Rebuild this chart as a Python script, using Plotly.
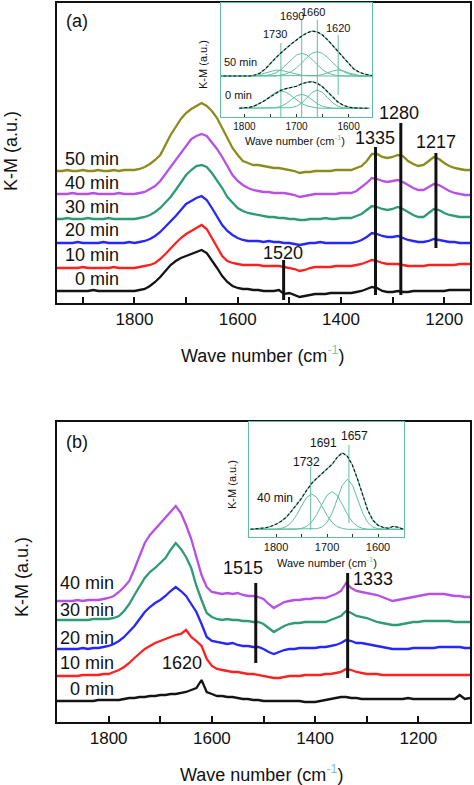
import plotly.graph_objects as go

W, H = 474, 785
FONT = "Liberation Sans, Arial, Helvetica, sans-serif"
TEAL = "#5fbf9f"

# ---------------- Panel (a) data ----------------
WN_A = [1950, 1940, 1930, 1920, 1910, 1900, 1890, 1880, 1870, 1860, 1850, 1840, 1830, 1820, 1810, 1800,
        1790, 1780, 1770, 1760, 1750, 1740, 1730, 1720, 1710, 1700,
        1690, 1680, 1670, 1660, 1650, 1640, 1630, 1620, 1610, 1600,
        1590, 1580, 1570, 1560, 1550, 1540, 1530, 1520, 1510, 1500,
        1490, 1480, 1470, 1460, 1450, 1440, 1430, 1420, 1410, 1400,
        1390, 1380, 1370, 1360, 1350, 1340, 1330, 1320, 1310, 1300,
        1290, 1280, 1270, 1260, 1250, 1240, 1230, 1220, 1210, 1200,
        1190, 1180, 1170, 1160, 1150]

A_LABELS = ["0 min", "10 min", "20 min", "30 min", "40 min", "50 min"]
A_OFFSETS = [12, 35, 60, 84, 109, 132]
A_0 = [0, 0, 0, 0, 0, 0, 0, 1, 0, 0, 0, 0, 0, 0, 0, 0,
       1, 2, 5, 9, 14, 20, 26, 30, 33, 35,
       37, 39, 41, 38, 31, 23, 15, 9, 5, 3,
       2, 2, 1, 1, 0, 0, 0, 1, -3, -2,
       -4, -6, -5, -4, -3, -3, -3, -2, -2, -2,
       -2, -2, -1, 0, 2, 4, 3, 0, -1, -1,
       0, -1, -1, 0, 0, 0, 0, 0, 0, 0,
       1, 1, 1, 1, 1]
A_10 = [0, 0, 0, 0, 0, 1, 0, 0, 0, 0, 0, 1, 0, 0, 0, 0,
        1, 2, 3, 5, 9, 14, 20, 25, 30, 34,
        37, 40, 43, 39, 30, 21, 12, 7, 5, 4,
        3, 3, 3, 3, 2, 2, 2, 2, 1, 0,
        -1, -3, -2, 0, 1, 1, 1, 1, 2, 2,
        2, 2, 3, 4, 6, 8, 7, 5, 4, 4,
        4, 3, 2, 2, 2, 2, 3, 3, 3, 3,
        3, 3, 4, 4, 4]
A_20 = [0, 0, 0, 0, 1, 0, 0, 0, 0, 1, 0, 0, 0, 0, 1, 0,
        1, 2, 4, 7, 11, 16, 21, 27, 33, 39,
        42, 45, 47, 43, 35, 27, 18, 12, 8, 5,
        3, 2, 2, 2, 1, 2, 1, 1, 0, 0,
        -1, -2, -1, 0, 0, 1, 0, 0, 0, 0,
        0, 0, 1, 3, 6, 10, 9, 7, 6, 6,
        7, 5, 3, 2, 1, 1, 2, 4, 3, 2,
        1, 1, 0, 0, 0]
A_30 = [0, 0, 1, 0, 0, 0, 1, 0, 0, 0, 1, 0, 0, 0, 0, 0,
        1, 2, 4, 7, 11, 16, 22, 29, 37, 44,
        49, 53, 54, 52, 46, 39, 31, 22, 16, 11,
        8, 6, 5, 4, 3, 2, 2, 1, 1, 0,
        0, -1, -1, 0, 0, 0, 1, 0, 0, 1,
        1, 1, 3, 5, 9, 13, 12, 10, 9, 10,
        12, 10, 7, 4, 2, 2, 6, 10, 9, 6,
        4, 3, 2, 2, 2]
A_40 = [0, 0, 0, 1, 0, 0, 0, 1, 0, 0, 0, 0, 1, 0, 0, 0,
        1, 2, 5, 8, 13, 20, 28, 35, 42, 48,
        55, 58, 60, 58, 52, 45, 37, 28, 19, 13,
        9, 6, 4, 3, 2, 2, 1, 1, 1, 0,
        -1, -3, -2, -1, 0, 0, 0, 0, 0, 1,
        1, 1, 3, 7, 11, 16, 15, 13, 12, 13,
        14, 12, 9, 6, 4, 4, 7, 10, 9, 6,
        3, 1, 0, -1, -1]
A_50 = [0, 0, 1, 0, 0, 1, 0, 0, 1, 0, 0, 1, 0, 1, 1, 1,
        2, 4, 7, 11, 16, 26, 36, 44, 52, 58,
        62, 65, 68, 65, 60, 53, 43, 33, 23, 16,
        10, 8, 6, 6, 5, 4, 3, 3, 2, 1,
        0, -2, -1, -1, 0, 0, 0, 0, 1, 1,
        1, 1, 3, 5, 10, 17, 17, 14, 13, 14,
        16, 15, 10, 7, 5, 6, 10, 14, 12, 8,
        5, 3, 2, 1, 1]
A_SERIES = [A_0, A_10, A_20, A_30, A_40, A_50]
A_COLORS = ["#141414", "#ff2020", "#2626ff", "#2e9a76", "#b650e6", "#8c8c1e"]

MARK_A_WN = [1511, 1333, 1284, 1216]
MARK_A_Y0 = [3, 8, 8, 55]
MARK_A_Y1 = [43, 156, 180, 150]
MARK_A_TXT = ["1520", "1335", "1280", "1217"]

# ---------------- Panel (b) data ----------------
WN_B = [1900, 1890, 1880, 1870, 1860, 1850, 1840, 1830, 1820, 1810,
        1800, 1790, 1780, 1770, 1760, 1750, 1740, 1730, 1720, 1710,
        1700, 1690, 1680, 1670, 1660, 1650, 1640, 1630, 1620, 1610,
        1600, 1590, 1580, 1570, 1560, 1550, 1540, 1530, 1520, 1510,
        1500, 1490, 1480, 1470, 1460, 1450, 1440, 1430, 1420, 1410,
        1400, 1390, 1380, 1370, 1360, 1350, 1340, 1330, 1320, 1310,
        1300, 1290, 1280, 1270, 1260, 1250, 1240, 1230, 1220, 1210,
        1200, 1190, 1180, 1170, 1160, 1150, 1140, 1130, 1120, 1110,
        1100]
B_LABELS = ["0 min", "10 min", "20 min", "30 min", "40 min"]
B_OFFSETS = [21, 46, 73, 102, 121]
B_0 = [0, 0, 0, 0, 0, 0, 0, 0, 1, 1,
       1, 1, 1, 2, 3, 3, 4, 4, 5, 5,
       6, 6, 7, 7, 8, 9, 11, 13, 21, 9,
       7, 5, 5, 4, 4, 3, 2, 2, 1, 1,
       0, 0, 0, 0, 0, 0, 0, 0, -1, -1,
       -1, 0, 1, 2, 3, 4, 4, 3, 3, 2,
       2, 2, 2, 2, 2, 2, 2, 2, 3, 2,
       2, 2, 2, 2, 2, 2, 2, 2, 6, 2,
       3]
B_10 = [0, 0, 0, 0, 0, 1, 1, 1, 1, 2,
        2, 4, 6, 9, 13, 18, 23, 27, 30, 33,
        35, 37, 39, 41, 42, 46, 39, 35, 30, 17,
        10, 7, 6, 5, 4, 4, 3, 2, 2, 1,
        0, -1, -2, -2, -1, 0, 0, 0, 1, 1,
        1, 1, 2, 2, 3, 4, 7, 6, 4, 3,
        2, 2, 2, 1, 1, 1, 1, 1, 1, 1,
        1, 1, 1, 1, 1, 1, 1, 1, 1, 1,
        1]
B_20 = [0, 0, 0, 0, 0, 1, 0, 1, 1, 2,
        3, 5, 8, 12, 17, 23, 30, 37, 42, 46,
        49, 53, 58, 62, 58, 53, 45, 37, 25, 12,
        8, 7, 6, 5, 6, 4, 3, 3, 2, 2,
        0, -3, -5, -3, -1, 0, 0, 1, 1, 1,
        1, 2, 2, 3, 4, 6, 9, 8, 6, 6,
        5, 4, 3, 2, 1, 0, 0, 0, 0, 1,
        1, 1, 1, 1, 2, 2, 2, 2, 2, 1,
        1]
B_30 = [0, 0, 0, 0, 0, 0, 0, 1, 1, 1,
        1, 2, 4, 9, 16, 25, 34, 42, 48, 52,
        57, 62, 70, 77, 71, 63, 52, 34, 20, 7,
        3, 1, 0, 1, 0, 0, -1, -1, -2, -2,
        -4, -8, -12, -9, -6, -4, -3, -3, -2, -2,
        -2, -2, -2, 0, 2, 4, 9, 7, 4, 3,
        2, 0, -2, -3, -4, -5, -5, -4, -3, -2,
        -2, -1, -1, -1, -1, -1, -1, -2, -2, -2,
        -2]
B_40 = [0, 0, 0, 0, 1, 0, 1, 1, 1, 2,
        3, 5, 9, 14, 20, 32, 45, 58, 66, 72,
        77, 84, 90, 95, 88, 76, 62, 45, 26, 14,
        9, 8, 7, 8, 7, 8, 6, 5, 5, 4,
        2, -3, -7, -4, -1, 0, 1, 1, 2, 2,
        3, 3, 3, 5, 7, 10, 18, 13, 10, 9,
        8, 7, 6, 4, 2, 0, 1, 2, 3, 4,
        5, 6, 7, 7, 7, 7, 6, 5, 5, 4,
        4]
B_SERIES = [B_0, B_10, B_20, B_30, B_40]
B_COLORS = ["#141414", "#ff2020", "#2626ff", "#2e9a76", "#b650e6"]

MARK_B_WN = [1515, 1337]
MARK_B_Y0 = [59, 44]
MARK_B_Y1 = [139, 149]
MARK_B_TXT = ["1515", "1333"]

# ---------------- Inset data ----------------
WN_IN = [1850, 1840, 1830, 1820, 1810, 1800, 1790, 1780, 1770, 1760,
         1750, 1740, 1730, 1720, 1710, 1700, 1690, 1680, 1670, 1660,
         1650, 1640, 1630, 1620, 1610, 1600, 1590, 1580, 1570, 1560, 1550]
N = None
IA_OFFSETS = [8.7, 41]  # 0 min, 50 min
IA_50_TOTAL = [0, 0, 0, 0, 0, 0, 0, 1, 3, 7,
               13, 18, 23, 28, 32, 36, 40, 43, 45, 44,
               41, 36, 30, 25, 18, 12, 7, 4, 2, 1, 0]
IA_50_C1730 = [0, 0, 0, 0, 0, 0, 0, 0.5, 1.5, 3,
               4.8, 5.9, 5.7, 4.5, 3, 1.6, 0.7, 0.2, 0, 0,
               0, 0, 0, 0, 0, 0, 0, 0, 0, 0, 0]
IA_50_C1690 = [0, 0, 0, 0, 0, 0, 0, 0, 0, 0.45,
               1.3, 3.1, 6.3, 11, 16.5, 21, 22.7, 21, 16.5, 11,
               6.3, 3.1, 1.3, 0.45, 0, 0, 0, 0, 0, 0, 0]
IA_50_C1660 = [0, 0, 0, 0, 0, 0, 0, 0, 0, 0,
               0, 0, 0.9, 2.1, 4.4, 8.1, 13.1, 18.5, 22.7, 24.3,
               22.7, 18.5, 13.1, 8.1, 4.4, 2.1, 0.9, 0, 0, 0, 0]
IA_50_C1620 = [0, 0, 0, 0, 0, 0, 0, 0, 0, 0,
               0, 0, 0, 0, 0, 0, 0, 0, 0, 0.5,
               1.5, 3.2, 5.1, 6, 5.1, 3.2, 1.5, 0.5, 0, 0, 0]
IA_0_TOTAL = [N, N, N, N, 0, 0.3, 1, 2.5, 5, 8,
              11.5, 15, 18, 19.7, 20.7, 22, 24.5, 26, 26.7, 25,
              21.5, 16, 11, 6, 3, 1.2, 0.5, 0, 0, 0, N]
IA_0_C1730 = [N, N, N, N, 0, 0.35, 1, 2.3, 4.8, 8.4,
              12.6, 16, 17.3, 16, 12.6, 8.4, 4.8, 2.3, 1, 0.35,
              0, 0, 0, 0, 0, 0, 0, 0, 0, 0, N]
IA_0_C1690 = [N, N, N, N, 0, 0, 0, 0, 0, 0,
              0, 0.6, 1.9, 4.6, 8.5, 12.4, 14, 12.4, 8.5, 4.6,
              1.9, 0.6, 0, 0, 0, 0, 0, 0, 0, 0, N]
IA_0_C1660 = [N, N, N, N, 0, 0, 0, 0, 0, 0,
              0, 0, 0, 0, 0.6, 2, 5.3, 10.5, 15.9, 18.3,
              15.9, 10.5, 5.3, 2, 0.6, 0, 0, 0, 0, 0, N]
IA_LINES_WN = [1730, 1690, 1660, 1620]
IA_LINES_Y0 = [0, 0, 0, 22]
IA_LINES_Y1 = [74, 97, 97, 82]

IB_OFFSET = 7.7
IB_TOTAL = [0, 0.5, 1, 1.5, 3, 5, 8, 12, 18, 24,
            31, 39, 46, 51, 56, 60, 65, 72, 76.5, 73,
            64, 50, 35, 19, 9, 4, 2, 1, 3, 2, 0]
IB_C1732 = [0, 0, 0, 0, 0, 0, 0.85, 2.7, 6.7, 13.9,
            23.3, 31.8, 35.3, 31.8, 23.3, 13.9, 6.7, 2.7, 0.85, 0,
            0, 0, 0, 0, 0, 0, 0, 0, 0, 0, 0]
IB_C1691 = [0, 0, 0, 0, 0, 0, 0, 0, 0, 0,
            0.9, 2.9, 7.2, 14.9, 24.9, 34, 37.7, 34, 24.9, 14.9,
            7.2, 2.9, 0.9, 0, 0, 0, 0, 0, 0, 0, 0]
IB_C1657 = [0, 0, 0, 0, 0, 0, 0, 0, 0, 0,
            0, 0, 0, 0.6, 2.2, 6.8, 16.2, 30.3, 44, 50,
            44, 30.3, 16.2, 6.8, 2.2, 0.6, 0, 0, 0, 0, 0]
IB_LINES_WN = [1732, 1657]
IB_LINES_Y0 = [7, 14]
IB_LINES_Y1 = [70, 92]

for s in A_SERIES:
    assert len(s) == len(WN_A)
for s in B_SERIES:
    assert len(s) == len(WN_B)
for s in [IA_50_TOTAL, IA_50_C1730, IA_50_C1690, IA_50_C1660, IA_50_C1620, IA_0_TOTAL,
          IA_0_C1730, IA_0_C1690, IA_0_C1660, IB_TOTAL, IB_C1732, IB_C1691, IB_C1657]:
    assert len(s) == len(WN_IN), len(s)


def shift(vals, off):
    return [None if v is None else v + off for v in vals]


def px(x):
    return x / W


def py(y):
    return 1 - y / H


fig = go.Figure()

# main (a)
for vals, off, col in zip(A_SERIES, A_OFFSETS, A_COLORS):
    fig.add_trace(go.Scatter(x=WN_A, y=shift(vals, off), mode="lines",
                             line=dict(color=col, width=2.3), xaxis="x", yaxis="y"))
for wn, y0, y1 in zip(MARK_A_WN, MARK_A_Y0, MARK_A_Y1):
    fig.add_trace(go.Scatter(x=[wn, wn], y=[y0, y1], mode="lines",
                             line=dict(color="#111", width=3), xaxis="x", yaxis="y"))

# main (b)
for vals, off, col in zip(B_SERIES, B_OFFSETS, B_COLORS):
    fig.add_trace(go.Scatter(x=WN_B, y=shift(vals, off), mode="lines",
                             line=dict(color=col, width=2.3), xaxis="x3", yaxis="y3"))
for wn, y0, y1 in zip(MARK_B_WN, MARK_B_Y0, MARK_B_Y1):
    fig.add_trace(go.Scatter(x=[wn, wn], y=[y0, y1], mode="lines",
                             line=dict(color="#111", width=3), xaxis="x3", yaxis="y3"))

# inset (a)
for wn, y0, y1 in zip(IA_LINES_WN, IA_LINES_Y0, IA_LINES_Y1):
    fig.add_trace(go.Scatter(x=[wn, wn], y=[y0, y1], mode="lines",
                             line=dict(color=TEAL, width=1), xaxis="x2", yaxis="y2"))
for comps, total, off in [([IA_50_C1730, IA_50_C1690, IA_50_C1660, IA_50_C1620], IA_50_TOTAL, IA_OFFSETS[1]),
                          ([IA_0_C1730, IA_0_C1690, IA_0_C1660], IA_0_TOTAL, IA_OFFSETS[0])]:
    for c in comps:
        fig.add_trace(go.Scatter(x=WN_IN, y=shift(c, off), mode="lines",
                                 line=dict(color=TEAL, width=1), xaxis="x2", yaxis="y2"))
    fig.add_trace(go.Scatter(x=WN_IN, y=shift(total, off), mode="lines",
                             line=dict(color=TEAL, width=1.2), xaxis="x2", yaxis="y2"))
    fig.add_trace(go.Scatter(x=WN_IN, y=shift(total, off), mode="lines",
                             line=dict(color="#111", width=1.1, dash="3px,2px"), xaxis="x2", yaxis="y2"))

# inset (b)
for wn, y0, y1 in zip(IB_LINES_WN, IB_LINES_Y0, IB_LINES_Y1):
    fig.add_trace(go.Scatter(x=[wn, wn], y=[y0, y1], mode="lines",
                             line=dict(color=TEAL, width=1), xaxis="x4", yaxis="y4"))
for c in [IB_C1732, IB_C1691, IB_C1657]:
    fig.add_trace(go.Scatter(x=WN_IN, y=shift(c, IB_OFFSET), mode="lines",
                             line=dict(color=TEAL, width=1), xaxis="x4", yaxis="y4"))
fig.add_trace(go.Scatter(x=WN_IN, y=shift(IB_TOTAL, IB_OFFSET), mode="lines",
                         line=dict(color=TEAL, width=1.2), xaxis="x4", yaxis="y4"))
fig.add_trace(go.Scatter(x=WN_IN, y=shift(IB_TOTAL, IB_OFFSET), mode="lines",
                         line=dict(color="#111", width=1.1, dash="3px,2px"), xaxis="x4", yaxis="y4"))


def main_x(dom, rng, anchor):
    return dict(domain=dom, range=rng, anchor=anchor, showline=True, linecolor="#111", linewidth=2,
                mirror=True, ticks="inside", ticklen=6, tickwidth=1.5, tickcolor="#111",
                tickvals=[1800, 1600, 1400, 1200], ticktext=["1800", "1600", "1400", "1200"],
                tickfont=dict(family=FONT, size=17, color="#111"),
                minor=dict(tickvals=[1900, 1700, 1500, 1300], ticks="inside", ticklen=6,
                           tickwidth=1.5, tickcolor="#111"),
                showgrid=False, zeroline=False)


def main_y(dom, anchor):
    return dict(domain=dom, range=[0, 300], anchor=anchor, showline=True, linecolor="#111",
                linewidth=2, mirror=True, ticks="", showticklabels=False, showgrid=False, zeroline=False)


def inset_x(dom, rng, anchor, fs):
    return dict(domain=dom, range=rng, anchor=anchor, showline=True, linecolor=TEAL, linewidth=1,
                mirror=True, ticks="inside", ticklen=3, tickwidth=1, tickcolor="#333",
                tickvals=[1800, 1700, 1600], ticktext=["1800", "1700", "1600"],
                tickfont=dict(family=FONT, size=fs, color="#111"),
                minor=dict(tickvals=[1750, 1650], ticks="inside", ticklen=3, tickcolor="#333"),
                showgrid=False, zeroline=False)


def inset_y(dom, rng, anchor):
    return dict(domain=dom, range=rng, anchor=anchor, showline=True, linecolor=TEAL, linewidth=1,
                mirror=True, ticks="", showticklabels=False, showgrid=False, zeroline=False)


ann = []


def T(text, x, y, size, xa="center", color="#111", angle=0):
    ann.append(dict(text=text, x=px(x), y=py(y), xref="paper", yref="paper", showarrow=False,
                    xanchor=xa, yanchor="middle", textangle=angle,
                    font=dict(family=FONT, size=size, color=color)))


SUP = "<span style='color:#7cc9b0'><sup>-1</sup></span>"
WAVE = "Wave number (cm" + SUP + ")"

# panel (a) texts
T("(a)", 77, 21, 18)
for lab, y in zip(A_LABELS, [279, 255, 230, 207, 183, 159]):
    T(lab, 121, y, 18, xa="right")
T(MARK_A_TXT[0], 283, 253, 18)
T(MARK_A_TXT[1], 375, 138, 18)
T(MARK_A_TXT[2], 399, 113, 18)
T(MARK_A_TXT[3], 436, 142, 18)
T(WAVE, 263, 354, 18)
T("K-M (a.u.)", 11, 151, 18, angle=-90)
# inset (a) texts
T("1730", 275, 34, 11)
T("1690", 292, 16, 11)
T("1660", 313, 12, 11)
T("1620", 338, 28, 11)
T("50 min", 240, 62, 11)
T("0 min", 239, 95, 11)
T("K-M (a.u.)", 203, 65, 11, angle=-90)
T(WAVE, 295, 140, 11)

# panel (b) texts
T("(b)", 77, 442, 18)
for lab, y in zip(B_LABELS, [689, 663, 638, 610, 583]):
    T(lab, 116, y, 18, xa="right")
T(MARK_B_TXT[0], 243, 568, 18)
T(MARK_B_TXT[1], 373, 579, 18)
T("1620", 182, 663, 18)
T(WAVE, 262, 773, 18)
T("K-M (a.u.)", 22, 577, 18, angle=-90)
# inset (b) texts
T("1732", 306, 462, 12)
T("1691", 323, 443, 12)
T("1657", 354, 436, 12)
T("40 min", 275, 498, 12)
T("K-M (a.u.)", 232, 485, 11, angle=-90)
T(WAVE, 327, 562, 11)

fig.update_layout(
    width=W, height=H, margin=dict(l=0, r=0, t=0, b=0),
    paper_bgcolor="white", plot_bgcolor="rgba(0,0,0,0)", showlegend=False,
    xaxis=main_x([px(57), px(470)], [1950, 1150], "y"),
    yaxis=main_y([py(303), py(3)], "x"),
    xaxis2=inset_x([px(221), px(372)], [1845, 1555], "y2", 10),
    yaxis2=inset_y([py(117), py(3)], [0, 114], "x2"),
    xaxis3=main_x([px(57), px(470)], [1900, 1100], "y3"),
    yaxis3=main_y([py(722), py(422)], "x3"),
    xaxis4=inset_x([px(249), px(404)], [1853, 1549], "y4", 11),
    yaxis4=inset_y([py(537), py(422)], [0, 115], "x4"),
    annotations=ann,
)

fig.write_html("out.html", config={"displayModeBar": False},
               post_script="document.body.style.margin='0';document.body.style.overflow='hidden';")
